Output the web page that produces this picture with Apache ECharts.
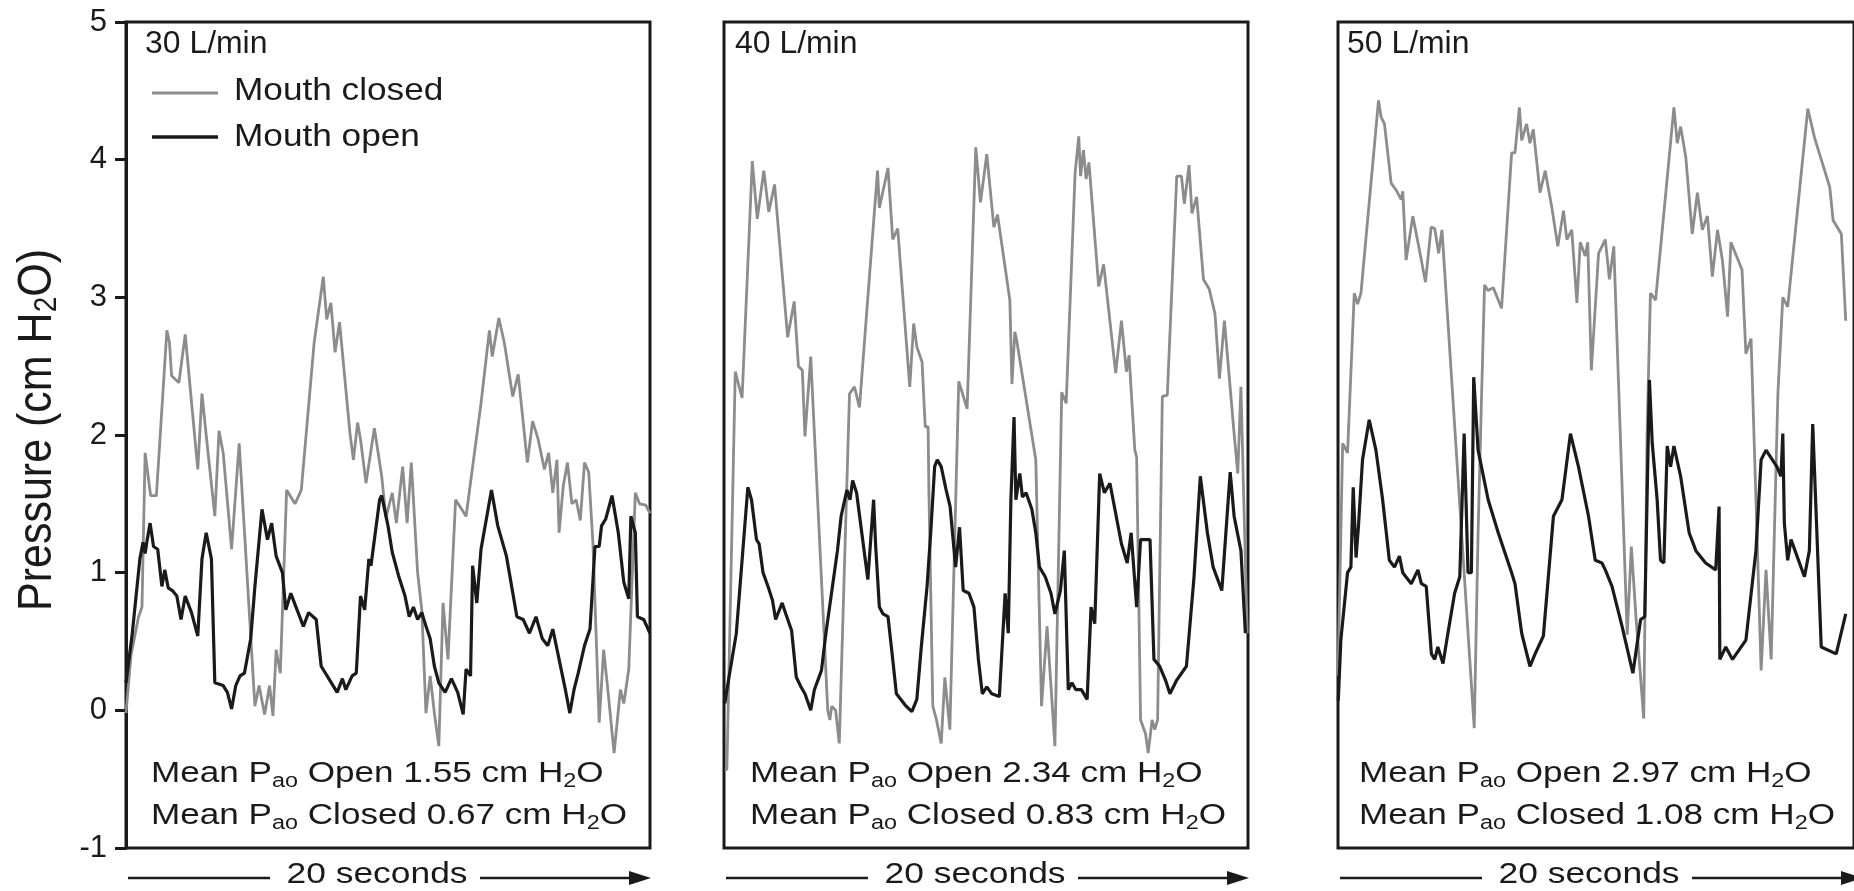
<!doctype html>
<html lang="en">
  <head>
    <meta charset="UTF-8" />
    <title>Airway opening pressure, mouth open vs closed</title>
    <script src="https://cdn.jsdelivr.net/npm/echarts@6/dist/echarts.min.js"></script>
    <style>
      html,
      body {
        margin: 0;
        padding: 0;
        background: #fff;
      }
      #chart {
        width: 1854px;
        height: 891px;
      }
    </style>
  </head>
  <body>
    <div id="chart"></div>
    <script>
      // ---- data (time in seconds, pressure in cm H2O) ----
      const flowLabels = ['30 L/min', '40 L/min', '50 L/min'];
      const meanOpen = ['1.55', '2.34', '2.97'];
      const meanClosed = ['0.67', '0.83', '1.08'];
      const yTicks = [-1, 0, 1, 2, 3, 4, 5];

      const closed30 = [
        [0, -0.02], [0.19, 0.4], [0.48, 0.68], [0.61, 0.75], [0.73, 1.87], [0.94, 1.56], [1.16, 1.56],
        [1.56, 2.76], [1.66, 2.67], [1.74, 2.43], [2.02, 2.38], [2.26, 2.73], [2.74, 1.75], [2.9, 2.3],
        [3.06, 2.0], [3.39, 1.41], [3.55, 2.03], [3.71, 1.87], [4.03, 1.17], [4.32, 1.94], [4.92, 0.03],
        [5.08, 0.18], [5.29, -0.03], [5.48, 0.18], [5.61, -0.04], [5.73, 0.44], [5.89, 0.27], [6.13, 1.6],
        [6.45, 1.5], [6.69, 1.6], [7.18, 2.67], [7.53, 3.15], [7.66, 2.84], [7.82, 2.96], [7.98, 2.6],
        [8.15, 2.82], [8.55, 2.01], [8.68, 1.82], [8.84, 2.09], [8.95, 1.97], [9.16, 1.65], [9.48, 2.05],
        [9.76, 1.7], [9.92, 1.4], [10.16, 1.58], [10.32, 1.36], [10.56, 1.77], [10.73, 1.36], [10.89, 1.8],
        [11.13, 1.0], [11.29, 0.73], [11.45, -0.02], [11.61, 0.25], [11.77, -0.02], [11.94, -0.26],
        [12.1, 0.78], [12.29, 0.37], [12.58, 1.53], [12.98, 1.41], [13.55, 2.23], [13.87, 2.76],
        [13.98, 2.57], [14.23, 2.85], [14.44, 2.67], [14.76, 2.28], [14.97, 2.44], [15.32, 1.8],
        [15.52, 2.1], [15.73, 1.97], [15.97, 1.75], [16.13, 1.87], [16.29, 1.58], [16.45, 1.82],
        [16.53, 1.29], [16.69, 1.63], [16.85, 1.8], [17.02, 1.5], [17.18, 1.53], [17.34, 1.38], [17.5, 1.8],
        [17.66, 1.73], [17.82, 1.22], [18.06, -0.09], [18.23, 0.44], [18.39, 0.15], [18.63, -0.31],
        [18.87, 0.15], [19.0, 0.05], [19.19, 0.3], [19.44, 1.58], [19.6, 1.5], [19.84, 1.49], [20, 1.43],
      ];
      const open30 = [
        [0, 0.2], [0.24, 0.56], [0.53, 1.1], [0.65, 1.22], [0.73, 1.14], [0.81, 1.24], [0.92, 1.36],
        [1.05, 1.19], [1.21, 1.17], [1.37, 0.9], [1.48, 1.02], [1.61, 0.89], [1.77, 0.87], [1.94, 0.83],
        [2.1, 0.66], [2.26, 0.83], [2.5, 0.71], [2.74, 0.54], [2.9, 1.1], [3.06, 1.29], [3.26, 1.1],
        [3.39, 0.2], [3.71, 0.18], [3.87, 0.13], [4.03, 0.01], [4.19, 0.18], [4.35, 0.25], [4.52, 0.27],
        [4.76, 0.52], [4.92, 0.9], [5.19, 1.46], [5.4, 1.24], [5.56, 1.36], [5.73, 1.12], [5.97, 1.0],
        [6.1, 0.73], [6.29, 0.85], [6.53, 0.73], [6.77, 0.61], [6.97, 0.71], [7.26, 0.66], [7.45, 0.32],
        [7.74, 0.23], [8.06, 0.13], [8.26, 0.23], [8.39, 0.15], [8.63, 0.25], [8.79, 0.27], [8.95, 0.83],
        [9.11, 0.73], [9.27, 1.1], [9.35, 1.05], [9.68, 1.53], [9.76, 1.56], [10.0, 1.34], [10.16, 1.15],
        [10.4, 0.98], [10.65, 0.83], [10.81, 0.68], [10.97, 0.75], [11.13, 0.66], [11.29, 0.71],
        [11.45, 0.61], [11.61, 0.52], [11.77, 0.32], [11.94, 0.2], [12.18, 0.13], [12.42, 0.23],
        [12.66, 0.13], [12.87, -0.03], [12.98, 0.3], [13.15, 0.25], [13.23, 1.05], [13.39, 0.78],
        [13.55, 1.17], [13.95, 1.6], [14.19, 1.34], [14.52, 1.12], [14.92, 0.68], [15.16, 0.66],
        [15.4, 0.56], [15.65, 0.68], [15.89, 0.52], [16.1, 0.47], [16.29, 0.59], [16.53, 0.37],
        [16.77, 0.15], [16.94, -0.02], [17.1, 0.15], [17.26, 0.27], [17.5, 0.47], [17.71, 0.59],
        [17.9, 1.19], [18.06, 1.19], [18.15, 1.34], [18.31, 1.39], [18.55, 1.56], [18.79, 1.29],
        [19.0, 0.93], [19.19, 0.81], [19.27, 1.41], [19.44, 1.29], [19.52, 0.68], [19.76, 0.66], [20, 0.56],
      ];

      const closed40 = [
        [0.03, -0.43], [0.11, -0.43], [0.43, 2.46], [0.69, 2.27], [1.08, 3.99], [1.27, 3.57], [1.52, 3.92],
        [1.71, 3.62], [1.93, 3.82], [2.43, 2.71], [2.68, 2.97], [2.84, 2.5], [2.99, 2.47], [3.09, 1.99],
        [3.31, 2.57], [3.96, 0.0], [4.04, -0.07], [4.11, 0.03], [4.26, 0.0], [4.4, -0.24], [4.79, 2.3],
        [4.98, 2.35], [5.17, 2.2], [5.86, 3.92], [5.93, 3.65], [6.26, 3.94], [6.44, 3.42], [6.63, 3.5],
        [7.09, 2.35], [7.24, 2.81], [7.36, 2.64], [7.56, 2.53], [7.68, 2.06], [7.79, 2.06], [7.82, 1.6],
        [7.97, 0.03], [8.11, -0.07], [8.29, -0.24], [8.43, 0.24], [8.62, -0.14], [8.96, 2.39], [9.28, 2.19],
        [9.61, 4.09], [9.79, 3.69], [10.03, 4.04], [10.3, 3.51], [10.44, 3.6], [10.91, 2.98], [10.99, 2.37],
        [11.1, 2.75], [11.17, 2.69], [11.9, 1.82], [12.12, 0.03], [12.33, 0.61], [12.63, -0.26],
        [12.89, 2.31], [13.06, 2.23], [13.4, 3.9], [13.54, 4.17], [13.61, 3.88], [13.72, 4.07],
        [13.82, 3.86], [13.93, 3.98], [14.3, 3.08], [14.49, 3.24], [14.95, 2.45], [15.17, 2.83],
        [15.36, 2.46], [15.46, 2.58], [15.68, 1.89], [15.75, 1.84], [15.9, -0.07], [16.09, -0.17],
        [16.19, -0.31], [16.34, -0.07], [16.44, -0.14], [16.55, -0.07], [16.73, 2.28], [16.92, 2.29],
        [17.28, 3.88], [17.46, 3.88], [17.57, 3.68], [17.75, 3.96], [17.86, 3.61], [18.04, 3.73],
        [18.3, 3.13], [18.52, 3.06], [18.74, 2.88], [18.91, 2.41], [19.1, 2.83], [19.47, 2.01],
        [19.61, 1.72], [19.73, 2.35], [19.87, 1.3], [19.97, 0.56],
      ];
      const open40 = [
        [0.03, 0.05], [0.11, 0.15], [0.47, 0.56], [0.91, 1.62], [1.05, 1.53], [1.24, 1.24], [1.34, 1.21],
        [1.49, 1.0], [1.68, 0.9], [1.85, 0.8], [1.97, 0.66], [2.22, 0.78], [2.36, 0.7], [2.58, 0.58],
        [2.76, 0.24], [2.94, 0.17], [3.09, 0.12], [3.31, 0.0], [3.45, 0.15], [3.72, 0.29], [3.89, 0.56],
        [4.33, 1.16], [4.47, 1.41], [4.69, 1.6], [4.81, 1.53], [4.91, 1.67], [5.06, 1.58], [5.49, 0.95],
        [5.71, 1.53], [5.79, 1.19], [5.93, 0.75], [6.07, 0.7], [6.26, 0.68], [6.44, 0.37], [6.58, 0.12],
        [6.95, 0.03], [7.17, -0.01], [7.36, 0.08], [7.53, 0.46], [7.75, 0.9], [7.89, 1.29], [8.04, 1.77],
        [8.14, 1.82], [8.29, 1.77], [8.48, 1.6], [8.63, 1.48], [8.84, 1.04], [8.99, 1.33], [9.13, 0.87],
        [9.35, 0.85], [9.54, 0.75], [9.71, 0.37], [9.86, 0.12], [10.03, 0.17], [10.22, 0.12], [10.51, 0.1],
        [10.73, 0.85], [10.85, 0.56], [10.95, 1.53], [11.07, 2.13], [11.14, 1.53], [11.29, 1.72],
        [11.39, 1.55], [11.53, 1.58], [11.75, 1.46], [11.9, 1.29], [12.04, 1.04], [12.26, 0.97],
        [12.48, 0.85], [12.63, 0.7], [12.84, 0.87], [12.99, 1.16], [13.14, 0.15], [13.28, 0.2],
        [13.43, 0.15], [13.64, 0.15], [13.86, 0.08], [14.01, 0.75], [14.15, 0.63], [14.34, 1.72],
        [14.52, 1.58], [14.73, 1.65], [14.95, 1.43], [15.17, 1.21], [15.39, 1.07], [15.54, 1.29],
        [15.75, 0.75], [15.9, 1.24], [16.26, 1.24], [16.41, 0.37], [16.63, 0.32], [16.85, 0.22],
        [17.02, 0.12], [17.28, 0.22], [17.65, 0.32], [17.94, 0.97], [18.18, 1.7], [18.45, 1.29],
        [18.67, 1.04], [19.0, 0.87], [19.32, 1.73], [19.47, 1.41], [19.73, 1.16], [19.9, 0.56],
      ];

      const closed50 = [
        [0.0, 0.25], [0.18, 1.94], [0.37, 1.87], [0.63, 3.03], [0.76, 2.95], [0.89, 3.03], [1.57, 4.43],
        [1.67, 4.31], [1.8, 4.26], [2.06, 3.83], [2.25, 3.78], [2.45, 3.71], [2.51, 3.77], [2.64, 3.27],
        [2.9, 3.59], [3.16, 3.34], [3.39, 3.11], [3.61, 3.51], [3.75, 3.5], [3.9, 3.32], [4.03, 3.49],
        [5.28, -0.13], [5.43, 1.29], [5.56, 2.25], [5.68, 3.09], [5.81, 3.05], [6.02, 3.07], [6.34, 2.92],
        [6.73, 4.05], [6.86, 4.05], [7.03, 4.38], [7.12, 4.14], [7.31, 4.26], [7.44, 4.12], [7.57, 4.22],
        [7.83, 3.76], [8.03, 3.92], [8.29, 3.65], [8.52, 3.37], [8.74, 3.63], [8.87, 3.42], [9.06, 3.49],
        [9.26, 2.96], [9.39, 3.4], [9.58, 3.3], [9.68, 3.4], [9.82, 2.47], [10.1, 3.32], [10.36, 3.42],
        [10.52, 3.13], [10.69, 3.37], [11.21, 0.55], [11.37, 1.19], [11.56, 0.65], [11.85, -0.06],
        [11.98, 2.01], [12.11, 3.03], [12.31, 2.98], [13.02, 4.38], [13.15, 4.12], [13.28, 4.24],
        [13.48, 4.02], [13.73, 3.46], [13.93, 3.76], [14.12, 3.49], [14.32, 3.59], [14.51, 3.15],
        [14.71, 3.49], [14.9, 3.27], [15.1, 2.86], [15.23, 3.4], [15.66, 3.2], [15.81, 2.59], [16.01, 2.7],
        [16.4, 0.29], [16.59, 1.02], [16.79, 0.37], [17.05, 2.3], [17.24, 3.0], [17.43, 2.93], [18.21, 4.37],
        [18.47, 4.16], [19.06, 3.8], [19.19, 3.56], [19.51, 3.46], [19.68, 2.83],
      ];
      const open50 = [
        [0.01, 0.07], [0.11, 0.51], [0.37, 1.0], [0.5, 1.04], [0.59, 1.62], [0.7, 1.11], [0.79, 1.33],
        [0.95, 1.82], [1.21, 2.11], [1.47, 1.89], [1.73, 1.53], [1.99, 1.09], [2.19, 1.04], [2.38, 1.12],
        [2.51, 1.0], [2.84, 0.92], [3.1, 1.02], [3.23, 0.92], [3.42, 0.9], [3.62, 0.41], [3.75, 0.37],
        [3.87, 0.46], [4.07, 0.34], [4.26, 0.56], [4.52, 0.85], [4.72, 0.97], [4.89, 2.01], [5.04, 1.0],
        [5.17, 1.0], [5.26, 2.42], [5.43, 1.89], [5.82, 1.53], [6.21, 1.29], [6.73, 1.0], [6.86, 0.92],
        [7.12, 0.56], [7.44, 0.32], [7.64, 0.41], [7.96, 0.54], [8.35, 1.41], [8.68, 1.53], [9.01, 2.01],
        [9.32, 1.77], [9.71, 1.41], [9.97, 1.09], [10.23, 1.07], [10.36, 1.02], [10.62, 0.9], [11.01, 0.61],
        [11.43, 0.27], [11.73, 0.66], [11.89, 0.68], [12.07, 2.4], [12.18, 1.94], [12.37, 1.53],
        [12.5, 1.09], [12.63, 1.07], [12.76, 1.92], [12.89, 1.77], [13.02, 1.92], [13.28, 1.7],
        [13.61, 1.29], [13.87, 1.16], [14.25, 1.07], [14.64, 1.02], [14.77, 1.48], [14.8, 0.37],
        [15.03, 0.46], [15.29, 0.37], [15.81, 0.51], [16.2, 1.16], [16.4, 1.82], [16.59, 1.89],
        [17.01, 1.77], [17.17, 1.7], [17.24, 2.01], [17.3, 1.36], [17.43, 1.09], [17.56, 1.24],
        [18.08, 0.97], [18.27, 1.16], [18.4, 2.08], [18.73, 0.46], [19.31, 0.41], [19.68, 0.7],
      ];

      const closedSeries = [closed30, closed40, closed50];
      const openSeries = [open30, open40, open50];

      // ---- layout ----
      const INK = '#1a1a1a';
      const GREY = '#8c8c8c';
      const FONT = "'Liberation Sans', Arial, Helvetica, sans-serif";
      const PANEL_LEFT = [126, 724, 1338];
      const PANEL_W = 524;
      const PANEL_TOP = 22;
      const PANEL_H = 826;
      const LABEL_DX = [19, 11, 9];
      const NOTE_DX = [25, 26, 21];

      const RICH = {
        sub: { fontSize: 20, lineHeight: 22, verticalAlign: 'bottom', fontFamily: FONT, fill: INK },
      };

      // the source figure is slightly stretched sideways, hence scaleX on the texts
      function text(x, y, str, opts) {
        opts = opts || {};
        return {
          type: 'text',
          x: x,
          y: y,
          scaleX: opts.scaleX || 1.15,
          silent: true,
          style: {
            text: str,
            fontSize: opts.fontSize || 30,
            lineHeight: 34,
            fontFamily: FONT,
            fill: INK,
            align: opts.align || 'left',
            textAlign: opts.align || 'left',
            verticalAlign: 'middle',
            textVerticalAlign: 'middle',
            rich: RICH,
          },
        };
      }

      function hline(x1, x2, y, color, width) {
        return {
          type: 'line',
          silent: true,
          shape: { x1: x1, y1: y, x2: x2, y2: y },
          style: { stroke: color, lineWidth: width },
        };
      }

      const graphics = [];
      PANEL_LEFT.forEach((left, i) => {
        graphics.push(text(left + LABEL_DX[i], 44, flowLabels[i], { fontSize: 31, scaleX: 1.03 }));
        graphics.push(
          text(left + NOTE_DX[i], 774, 'Mean P{sub|ao} Open ' + meanOpen[i] + ' cm H{sub|2}O', { scaleX: 1.17 })
        );
        graphics.push(
          text(left + NOTE_DX[i], 816, 'Mean P{sub|ao} Closed ' + meanClosed[i] + ' cm H{sub|2}O', { scaleX: 1.17 })
        );
        // "20 seconds" time bar under each panel
        graphics.push(hline(left + 2, left + 144, 878, INK, 2.5));
        graphics.push(text(left + 251, 875, '20 seconds', { align: 'center', scaleX: 1.18 }));
        graphics.push(hline(left + 354, left + 508, 878, INK, 2.5));
        graphics.push({
          type: 'polygon',
          silent: true,
          shape: { points: [[left + 503, 871], [left + 525, 878], [left + 503, 885]] },
          style: { fill: INK },
        });
      });

      // legend drawn inside the first panel
      graphics.push(hline(152, 218, 93, GREY, 3));
      graphics.push(text(234, 91, 'Mouth closed', { fontSize: 32, scaleX: 1.1 }));
      graphics.push(hline(152, 218, 137, INK, 3.5));
      graphics.push(text(234, 137, 'Mouth open', { fontSize: 32, scaleX: 1.1 }));

      // y axis title
      graphics.push({
        type: 'text',
        x: 38,
        y: 430,
        rotation: Math.PI / 2,
        scaleY: 1.1,
        silent: true,
        style: {
          text: 'Pressure (cm H{sub|2}O)',
          fontSize: 43,
          lineHeight: 46,
          fontFamily: FONT,
          fill: INK,
          align: 'center',
          textAlign: 'center',
          verticalAlign: 'middle',
          textVerticalAlign: 'middle',
          rich: { sub: { fontSize: 28, lineHeight: 30, verticalAlign: 'bottom', fontFamily: FONT, fill: INK } },
        },
      });

      const chart = echarts.init(document.getElementById('chart'), null, { renderer: 'canvas' });

      chart.setOption({
        animation: false,
        backgroundColor: '#fff',
        grid: PANEL_LEFT.map((left) => ({
          left: left,
          top: PANEL_TOP,
          width: PANEL_W,
          height: PANEL_H,
          show: true,
          borderColor: INK,
          borderWidth: 3,
          backgroundColor: 'transparent',
        })),
        xAxis: PANEL_LEFT.map((_, i) => ({
          gridIndex: i,
          type: 'value',
          min: 0,
          max: 20,
          show: false,
        })),
        yAxis: PANEL_LEFT.map((_, i) => ({
          gridIndex: i,
          type: 'value',
          min: yTicks[0],
          max: yTicks[yTicks.length - 1],
          interval: 1,
          show: i === 0,
          axisLine: { show: true, lineStyle: { color: INK, width: 3 } },
          axisTick: { show: true, inside: false, length: 11, lineStyle: { color: INK, width: 3 } },
          axisLabel: { color: INK, fontSize: 31, fontFamily: FONT, margin: 19 },
          splitLine: { show: false },
        })),
        series: [
          ...closedSeries.map((data, i) => ({
            name: 'Mouth closed',
            type: 'line',
            xAxisIndex: i,
            yAxisIndex: i,
            data: data,
            showSymbol: false,
            symbol: 'none',
            lineStyle: { color: GREY, width: 2.8 },
            z: 2,
          })),
          ...openSeries.map((data, i) => ({
            name: 'Mouth open',
            type: 'line',
            xAxisIndex: i,
            yAxisIndex: i,
            data: data,
            showSymbol: false,
            symbol: 'none',
            lineStyle: { color: INK, width: 3.2 },
            z: 3,
          })),
        ],
        graphic: graphics,
      });
    </script>
  </body>
</html>
